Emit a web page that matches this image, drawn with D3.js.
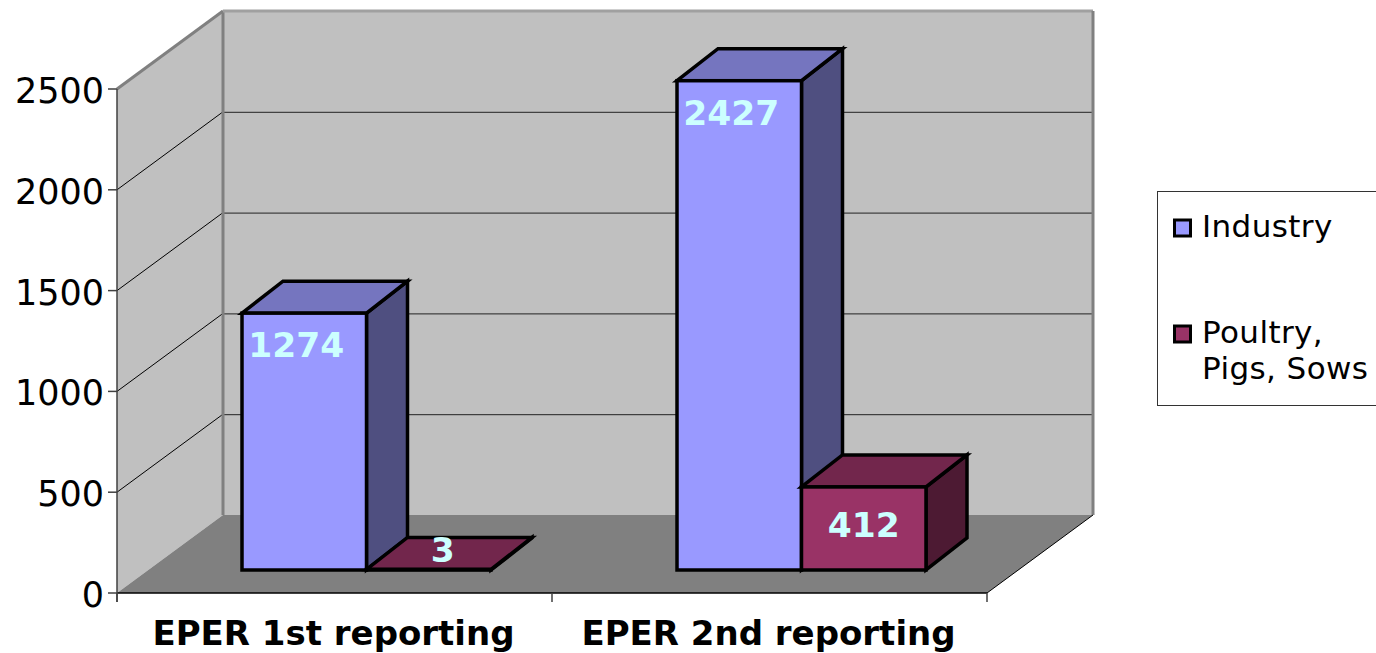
<!DOCTYPE html>
<html><head><meta charset="utf-8">
<script src="https://cdn.jsdelivr.net/npm/d3@7"></script>
<style>html,body{margin:0;background:#fff;overflow:hidden}svg{display:block}text{font-family:"DejaVu Sans",sans-serif}</style>
</head><body><svg id="c" width="1376" height="653"></svg>
<script>
const categories = ["EPER 1st reporting", "EPER 2nd reporting"];
const seriesNames = ["Industry", "Poultry, Pigs, Sows"];
const industry = [1274, 2427];
const poultry = [3, 412];
const yTicks = [0, 500, 1000, 1500, 2000, 2500];
const legendLines = [["Industry"], ["Poultry,", "Pigs, Sows"]];
const faces = [
  {front:"#9999FF", top:"#7575BF", side:"#4F4F80"},
  {front:"#993366", top:"#72264C", side:"#4D1A33"}
];

const svg = d3.select("#c");
const X0 = 117, X1 = 987, Y0 = 593, Y1 = 89;
const wallDx = 106, wallDy = -78, barDx = 41, barDy = -32, barBase = 570;
const x = d3.scaleBand().domain(categories).range([X0, X1]);
const inner = d3.scaleBand().domain(seriesNames).range([125, 374]);
const y = d3.scaleLinear().domain([0, 2500]).range([Y0, Y1]);
const h = v => Y0 - y(v);
const poly = p => p.map(q => q.join(",")).join(" ");

// walls and floor
svg.append("polygon").attr("fill", "#C0C0C0")
  .attr("points", poly([[X0, y(2500)], [X0 + wallDx, y(2500) + wallDy], [X1 + wallDx, y(2500) + wallDy], [X1 + wallDx, Y0 + wallDy], [X0 + wallDx, Y0 + wallDy], [X0, Y0]]));
svg.append("polygon").attr("fill", "#808080")
  .attr("points", poly([[X0, Y0], [X0 + wallDx, Y0 + wallDy], [X1 + wallDx, Y0 + wallDy], [X1, Y0]]));

// gridlines
yTicks.filter(t => t > 0 && t < 2500).forEach(t => {
  svg.append("line").attr("x1", X0).attr("y1", y(t)).attr("x2", X0 + wallDx).attr("y2", y(t) + wallDy).attr("stroke", "#000").attr("stroke-width", 1);
  svg.append("line").attr("x1", X0 + wallDx).attr("y1", y(t) + wallDy + .5).attr("x2", X1 + wallDx).attr("y2", y(t) + wallDy + .5).attr("stroke", "#222").attr("stroke-width", 1);
});

// wall edges
const edge = (x1, y1, x2, y2, c, w) => svg.append("line").attr("x1", x1).attr("y1", y1).attr("x2", x2).attr("y2", y2).attr("stroke", c).attr("stroke-width", w);
edge(X0, y(2500), X0 + wallDx, y(2500) + wallDy, "#808080", 3);
edge(X0 + wallDx, y(2500) + wallDy, X0 + wallDx, Y0 + wallDy, "#808080", 3);
edge(X0 + wallDx, y(2500) + wallDy, X1 + wallDx, y(2500) + wallDy, "#A0A0A0", 3);
edge(X1 + wallDx, y(2500) + wallDy, X1 + wallDx, Y0 + wallDy, "#808080", 3);
edge(X0, Y0, X1, Y0, "#000", 1.5);
edge(X1, Y0, X1 + wallDx, Y0 + wallDy, "#000", 1);

// axes
edge(X0, y(2500), X0, Y0 + 9, "#404040", 1.5);
svg.selectAll("text.yt").data(yTicks).join("text").attr("class", "yt")
  .attr("x", 104).attr("y", d => y(d) + 14).attr("text-anchor", "end")
  .attr("font-size", 35).attr("fill", "#000").text(d => d);
yTicks.forEach(t => edge(X0 - 9, y(t), X0, y(t), "#404040", 1.5));
[...categories.map(c => x(c)), X1].forEach(v => edge(v, Y0, v, Y0 + 9, "#404040", 1.5));
svg.selectAll("text.xt").data(categories).join("text").attr("class", "xt")
  .attr("x", (d, i) => x(d) + x.bandwidth() / 2 - 1).attr("y", 644.5).attr("text-anchor", "middle")
  .attr("font-size", 34).attr("font-weight", "bold").attr("fill", "#000").text(d => d);

// bars
const labelOffset = v => v >= 1000 ? [-8, 44] : v >= 100 ? [0, 50] : [14, -7];
[industry, poultry].forEach((vals, s) => {
  const name = seriesNames[s], f = faces[s], w = inner.bandwidth();
  categories.forEach((c, i) => {
    const v = vals[i], l = x(c) + inner(name), r = l + w, b = barBase, t = b - h(v);
    const g = svg.append("g").attr("stroke", "#000").attr("stroke-width", 3.5).attr("stroke-linejoin", "miter");
    g.append("polygon").attr("fill", f.side).attr("points", poly([[r, t], [r + barDx, t + barDy], [r + barDx, b + barDy], [r, b]]));
    g.append("polygon").attr("fill", f.top).attr("points", poly([[l, t], [l + barDx, t + barDy], [r + barDx, t + barDy], [r, t]]));
    g.append("rect").attr("fill", f.front).attr("x", l).attr("y", t).attr("width", w).attr("height", b - t);
  });
});
[industry, poultry].forEach((vals, s) => {
  categories.forEach((c, i) => {
    const v = vals[i], o = labelOffset(v);
    svg.append("text").attr("x", x(c) + inner(seriesNames[s]) + inner.bandwidth() / 2 + o[0])
      .attr("y", barBase - h(v) + o[1]).attr("text-anchor", "middle")
      .attr("font-size", 34.5).attr("font-weight", "bold").attr("fill", "#CCFFFF").text(v);
  });
});

// legend
svg.append("rect").attr("x", 1157.5).attr("y", 191.5).attr("width", 230).attr("height", 214).attr("fill", "#fff").attr("stroke", "#333").attr("stroke-width", 1);
const legendTop = [219, 325];
legendLines.forEach((lines, s) => {
  svg.append("rect").attr("x", 1174.5).attr("y", legendTop[s] + 1).attr("width", 16).attr("height", 16)
    .attr("fill", faces[s].front).attr("stroke", "#000").attr("stroke-width", 3);
  lines.forEach((ln, k) => svg.append("text").attr("x", 1202).attr("y", legendTop[s] + 18 + k * 36)
    .attr("font-size", 31).attr("letter-spacing", 0.4).attr("fill", "#000").text(ln));
});
</script></body></html>
